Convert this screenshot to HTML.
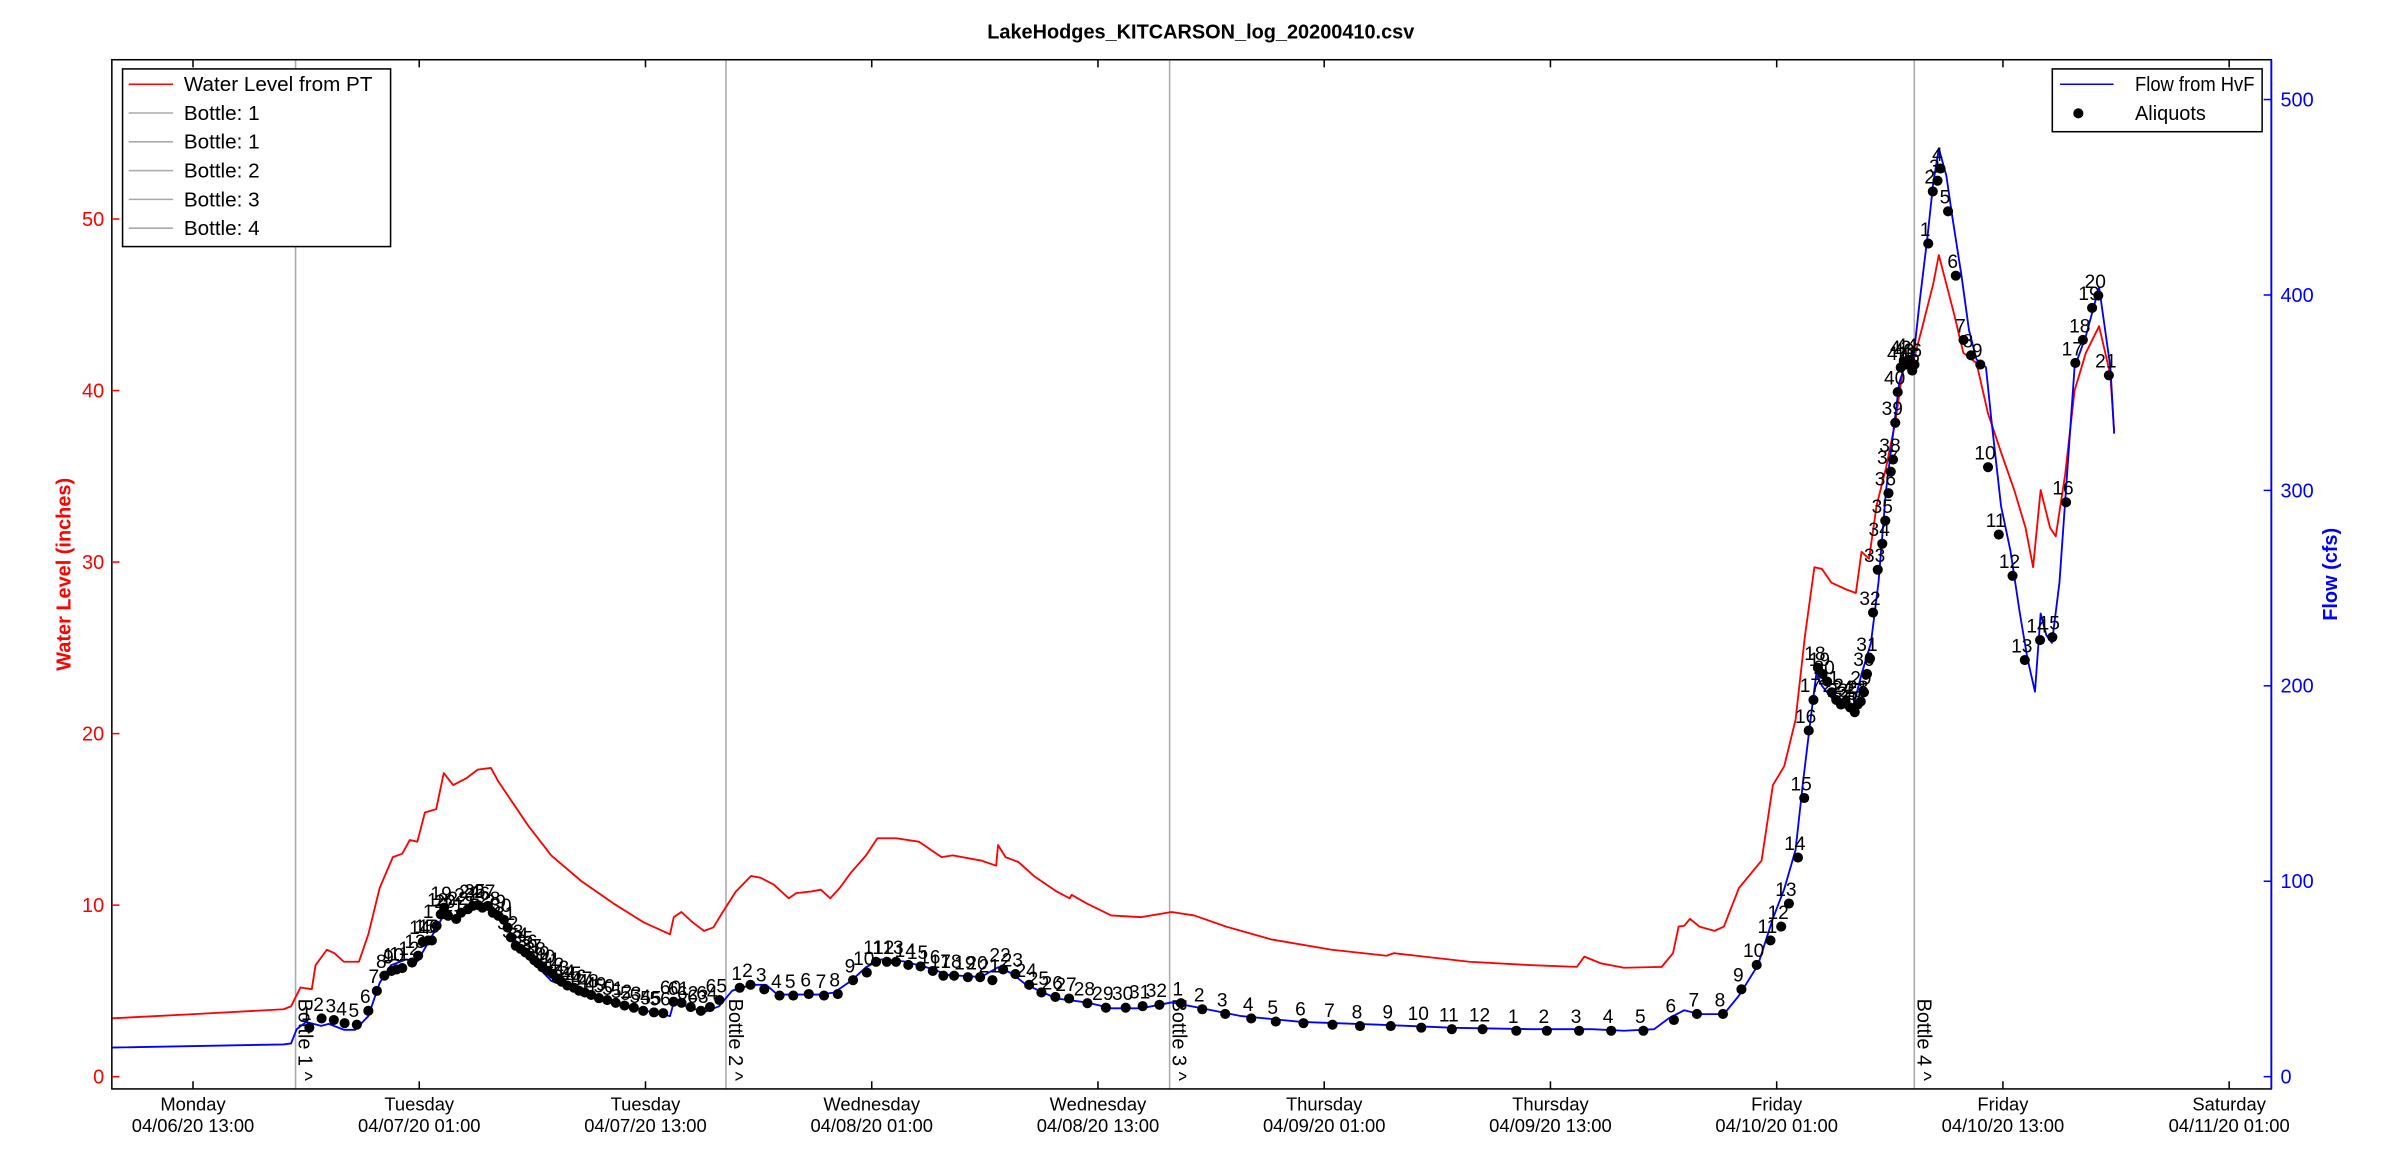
<!DOCTYPE html>
<html><head><meta charset="utf-8"><style>
html,body{margin:0;padding:0;background:#fff}
svg{display:block;font-family:"Liberation Sans","DejaVu Sans",sans-serif}
</style></head><body>
<svg id="chart" width="2400" height="1175" viewBox="0 0 1567 767.2" xmlns="http://www.w3.org/2000/svg">
<rect x="0" y="0" width="1567" height="768" fill="#fff"/>
<text x="784" y="25" text-anchor="middle" font-size="13" font-weight="bold">LakeHodges_KITCARSON_log_20200410.csv</text>
<g id="plot"></g>
</svg>
<script>
// hours since 04/06/20 13:00
const xTickHours=[0,12,24,36,48,60,72,84,96,108];
const xTickDay=["Monday","Tuesday","Tuesday","Wednesday","Wednesday","Thursday","Thursday","Friday","Friday","Saturday"];
const xTickDate=["04/06/20 13:00","04/07/20 01:00","04/07/20 13:00","04/08/20 01:00","04/08/20 13:00","04/09/20 01:00","04/09/20 13:00","04/10/20 01:00","04/10/20 13:00","04/11/20 01:00"];
const leftTicks=[0,10,20,30,40,50];
const rightTicks=[0,100,200,300,400,500];
const bottleHours=[5.44,28.27,51.8,91.3];
const bottleNames=["Bottle 1","Bottle 2","Bottle 3","Bottle 4"];
const redH=[-4.3,0.3,4.8,5.2,5.7,6.3,6.5,7.1,7.5,8.0,8.8,9.3,9.9,10.6,11.1,11.5,11.9,12.3,12.9,13.3,13.8,14.5,15.1,15.8,16.2,17.0,17.8,19.0,20.6,22.3,23.9,25.3,25.5,25.9,26.5,27.1,27.6,28.1,28.8,29.6,30.1,30.8,31.6,32.0,32.8,33.3,33.8,34.3,34.9,35.7,36.3,37.3,38.5,39.7,40.3,41.8,42.6,42.7,43.1,43.8,44.6,45.8,46.5,46.6,47.4,48.7,50.3,51.9,53.1,54.8,57.2,60.4,62.9,63.3,63.7,64.9,67.7,71.0,73.4,73.8,74.7,75.9,77.9,78.5,78.8,79.1,79.4,79.9,80.7,81.2,82.0,83.2,83.8,84.4,85.0,85.5,86.0,86.4,86.9,87.7,88.2,88.5,88.9,89.3,89.8,90.3,90.7,91.2,91.7,92.3,92.6,93.0,93.4,93.9,94.6,95.2,95.9,96.6,97.2,97.6,98.0,98.5,98.8,99.3,99.8,100.4,101.1,101.7,101.9];
const redV=[3.4,3.66,3.93,4.1,5.2,5.1,6.5,7.4,7.2,6.7,6.7,8.3,11.0,12.8,13.0,13.8,13.7,15.4,15.6,17.7,17.0,17.4,17.9,18.0,17.2,15.9,14.6,12.9,11.4,10.1,9.0,8.3,9.3,9.6,9.0,8.5,8.7,9.6,10.8,11.7,11.6,11.2,10.4,10.7,10.8,10.9,10.4,11.0,11.9,12.9,13.9,13.9,13.7,12.8,12.9,12.6,12.3,13.5,12.8,12.5,11.7,10.8,10.4,10.6,10.1,9.4,9.3,9.6,9.4,8.75,8.0,7.4,7.1,7.05,7.2,7.05,6.7,6.5,6.4,7.0,6.6,6.35,6.4,7.2,8.75,8.8,9.2,8.75,8.5,8.75,11.0,12.6,17.0,18.1,20.8,25.7,29.7,29.6,28.8,28.4,28.2,30.6,30.2,33.3,35.5,38.2,41.3,41.5,43.6,46.2,47.9,46.2,44.5,42.2,41.6,38.7,36.4,34.2,32.0,29.7,34.2,32.0,31.5,35.1,40.0,42.2,43.75,40.9,37.6];
const flowH=[-4.3,4.8,5.2,5.5,6.0,6.8,7.2,8.0,8.6,9.3,9.9,10.5,11.3,11.9,12.5,13.2,14.1,14.9,15.6,16.2,17.0,17.8,19.0,20.6,22.3,23.9,25.3,25.5,26.5,27.1,27.9,28.6,29.6,30.4,31.0,32.0,33.2,34.0,34.9,35.7,36.5,37.7,38.9,40.1,41.8,42.7,43.4,44.2,45.8,47.4,48.7,50.3,51.9,53.5,55.6,58.8,62.9,66.9,71.0,74.2,75.9,77.5,78.3,79.1,79.9,81.2,82.0,83.0,83.8,84.4,85.0,85.4,85.8,86.1,86.4,86.9,87.4,88.0,88.5,89.0,89.4,89.8,90.2,90.5,90.8,91.2,91.6,92.0,92.3,92.6,93.0,93.3,93.8,94.2,94.6,95.1,95.4,95.9,96.4,96.9,97.3,97.7,98.0,98.3,98.6,99.0,99.4,99.8,100.4,101.1,101.7,101.9];
const flowV=[14.9,16.5,17,24.3,28,26,27,24,24,31,48,57,60,59,69,81,82,87,87,82,71,61,49,43,38,34,31,38,35,33,36,44,47,47,42,42,42,43,49,56,60,59,56,52,51,56,53,47,40,38,35,35,38,35,31,28,26.6,25,24.3,24.3,23.5,24.3,30,34,32,32,41.5,57,81,96,116,151,183,206,200,194,190,187,206,222,253,300,331,355,364,363,398,430,457,475,461,441,410,382,367,363,335,292,269,237,214,197,237,226,222,253,308,363,379,404,363,329];
const aliqH=[6.17,6.82,7.47,8.04,8.69,9.30,9.75,10.15,10.53,10.80,11.10,11.62,11.94,12.19,12.47,12.67,12.92,13.14,13.32,13.53,13.96,14.22,14.58,14.84,15.11,15.35,15.64,15.90,16.20,16.49,16.69,16.86,17.12,17.38,17.63,17.87,18.10,18.31,18.52,18.81,19.07,19.29,19.55,19.86,20.21,20.47,20.78,21.12,21.53,21.97,22.42,22.89,23.38,23.88,24.45,24.94,25.49,25.91,26.40,26.94,27.42,27.92,
29.0,29.57,30.30,31.11,31.84,32.66,33.47,34.20,35.01,35.74,36.23,36.80,37.29,37.94,38.59,39.24,39.80,40.37,41.10,41.75,42.40,42.97,43.62,44.35,45.00,45.74,46.47,47.44,48.42,49.47,50.37,51.26,
52.40,53.53,54.75,56.13,57.43,58.90,60.44,61.90,63.53,65.15,66.77,68.40,70.19,71.81,73.52,75.22,76.93,78.55,79.77,81.15,82.13,82.94,83.67,84.24,84.65,85.13,85.46,85.70,85.95,86.19,86.43,86.68,86.92,87.16,87.41,87.65,87.90,88.14,88.30,88.46,88.63,88.79,88.95,89.11,89.36,89.60,89.76,89.93,90.05,90.17,90.29,90.42,90.58,90.74,90.90,91.06,91.19,91.31,
92.04,92.28,92.53,92.69,93.09,93.50,93.91,94.31,94.80,95.21,95.78,96.51,97.16,97.97,98.62,99.35,99.84,100.24,100.73,101.06,101.62];
const aliqV=[25.1,29.8,29.0,27.4,26.6,33.7,43.9,51.7,54.1,54.9,55.6,58.4,61.9,69.0,69.7,69.7,77.2,83.1,86.5,82.3,80.7,83.9,85.7,87.4,87.8,86.5,87.4,83.9,82.3,80.3,76.3,71.3,67.0,65.4,63.6,61.9,59.6,58.0,56.0,54.2,52.7,50.2,48.6,46.6,45.5,44.0,43.1,41.8,40.2,39.2,37.8,36.4,35.3,33.7,32.9,32.5,38.4,37.8,35.6,33.7,35.6,39.2,
45.5,47.0,44.7,41.5,41.5,42.3,41.5,42.3,49.4,53.3,58.8,58.8,58.8,57.2,56.4,54.1,51.7,51.7,50.9,50.9,49.4,54.9,52.5,47.0,43.1,40.8,40.0,37.6,35.3,35.3,36.1,36.8,
37.6,34.5,32.1,29.8,28.2,27.4,26.6,25.9,25.9,25.1,24.3,24.3,23.5,23.5,23.5,23.5,23.5,29.0,32.1,32.1,44.7,57.2,69.7,76.8,88.6,112.1,142.6,177.1,192.8,209.2,206.1,202.2,196.7,192.8,190.4,192.0,188.9,186.5,190.4,192.0,196.7,206.1,213.9,237.5,259.4,272.7,284.5,298.6,309.6,315.8,334.6,350.3,362.9,366.0,364.4,366.8,361.3,364.4,
426.3,453.0,458.5,464.7,442.8,409.9,377.0,369.1,364.4,311.9,277.4,256.3,213.2,223.4,224.9,293.9,365.2,377.0,393.4,399.7,358.9];
const aliqLabel=[1,2,3,4,5,6,7,8,9,10,11,12,13,14,15,16,17,18,19,20,21,22,23,24,25,26,27,28,29,30,31,32,33,34,35,36,37,38,39,40,41,42,43,44,45,46,47,48,49,50,51,52,53,54,55,56,60,61,62,63,64,65,
1,2,3,4,5,6,7,8,9,10,11,12,13,14,15,16,17,18,19,20,21,22,23,24,25,26,27,28,29,30,31,32,
1,2,3,4,5,6,7,8,9,10,11,12,1,2,3,4,5,6,7,8,9,10,11,12,13,14,15,16,17,18,19,20,21,22,23,24,25,26,27,28,29,30,31,32,33,34,35,36,37,38,39,40,41,42,43,44,45,46,
1,2,3,4,5,6,7,8,9,10,11,12,13,14,15,16,17,18,19,20,21];

const L=73,R=1483,T=39,B=711;
const X=h=>126+h*12.31;
const YL=v=>703-v*11.2;
const YR=v=>703-v*1.276;
const NS="http://www.w3.org/2000/svg";
const g=document.getElementById('plot');
function mk(tag,attrs,parent){const e=document.createElementNS(NS,tag);for(const k in attrs)e.setAttribute(k,attrs[k]);(parent||g).appendChild(e);return e;}
function txt(s,attrs,parent){const e=mk('text',attrs,parent);e.textContent=s;return e;}

bottleHours.forEach((h,i)=>{
  const l=mk('line',{x1:X(h),x2:X(h),y1:T,y2:B,stroke:'#aaa','stroke-width':1});
  
  
  const t=txt(bottleNames[i]+' ^',{transform:`translate(${X(h)+2},652) rotate(90)`,'font-size':13});
  
  
});
const rp=mk('polyline',{points:redH.map((h,i)=>X(h)+','+YL(redV[i])).join(' '),fill:'none',stroke:'#ff0000','stroke-width':1.2,'stroke-linejoin':'round'});


const bp=mk('polyline',{points:flowH.map((h,i)=>X(h)+','+YR(flowV[i])).join(' '),fill:'none',stroke:'#0000ff','stroke-width':1.2,'stroke-linejoin':'round'});


const ag=mk('g',{});


aliqH.forEach((h,i)=>{
  const c=mk('circle',{cx:X(h),cy:YR(aliqV[i]),r:3.3,fill:'#000'},ag);
  
  
});
aliqH.forEach((h,i)=>{
  const t=txt(String(aliqLabel[i]),{x:X(h)-2,y:YR(aliqV[i])-5,'font-size':12.5,'text-anchor':'middle'},ag);
  
  
});
const fr=mk('rect',{x:L,y:T,width:R-L,height:B-T,fill:'none',stroke:'#000','stroke-width':1});


const rs=mk('line',{x1:R,x2:R,y1:T,y2:B,stroke:'#0000ff','stroke-width':1.2});


xTickHours.forEach((h,i)=>{
  mk('line',{x1:X(h),x2:X(h),y1:B,y2:B-5,stroke:'#000'});
  mk('line',{x1:X(h),x2:X(h),y1:T,y2:T+5,stroke:'#000'});
  const t1=txt(xTickDay[i],{x:X(h),y:725,'font-size':12,'text-anchor':'middle'});
  
  
  const t2=txt(xTickDate[i],{x:X(h),y:739,'font-size':12,'text-anchor':'middle'});
  
  
});
leftTicks.forEach(v=>{
  mk('line',{x1:L,x2:L+5,y1:YL(v),y2:YL(v),stroke:'#ff0000'});
  const t=txt(String(v),{x:68,y:YL(v)+4.5,'font-size':13,'text-anchor':'end',fill:'#ff0000'});
  
  
});
rightTicks.forEach(v=>{
  mk('line',{x1:R-5,x2:R,y1:YR(v),y2:YR(v),stroke:'#0000ff'});
  const t=txt(String(v),{x:1489,y:YR(v)+4.5,'font-size':13,fill:'#0000ff'});
  
  
});
const yl=txt('Water Level (inches)',{transform:'translate(46,375) rotate(-90)','font-size':13,'font-weight':'bold',fill:'#ff0000','text-anchor':'middle'});


const yr=txt('Flow (cfs)',{transform:'translate(1526,375) rotate(-90)','font-size':13,'font-weight':'bold',fill:'#0000ff','text-anchor':'middle'});


const lg=mk('g',{});


mk('rect',{x:80,y:45,width:175,height:116,fill:'#fff',stroke:'#000'},lg);
const leftItems=['Water Level from PT','Bottle: 1','Bottle: 1','Bottle: 2','Bottle: 3','Bottle: 4'];
leftItems.forEach((s,i)=>{
  const y=55+i*18.8;
  mk('line',{x1:84,x2:113,y1:y,y2:y,stroke:i==0?'#ff0000':'#aaa','stroke-width':1},lg);
  const t=txt(s,{x:120,y:y+4.5,'font-size':13.5},lg);
  
  
});
const rg=mk('g',{});


mk('rect',{x:1340,y:45,width:137,height:41,fill:'#fff',stroke:'#000'},rg);
mk('line',{x1:1345,x2:1380,y1:55,y2:55,stroke:'#0000ff'},rg);
mk('circle',{cx:1357,cy:74,r:3.3,fill:'#000'},rg);
const r1=txt('Flow from HvF',{x:1394,y:59.5,'font-size':13,textLength:78,lengthAdjust:'spacingAndGlyphs'},rg);


const r2=txt('Aliquots',{x:1394,y:78.5,'font-size':13},rg);


</script>
</body></html>
